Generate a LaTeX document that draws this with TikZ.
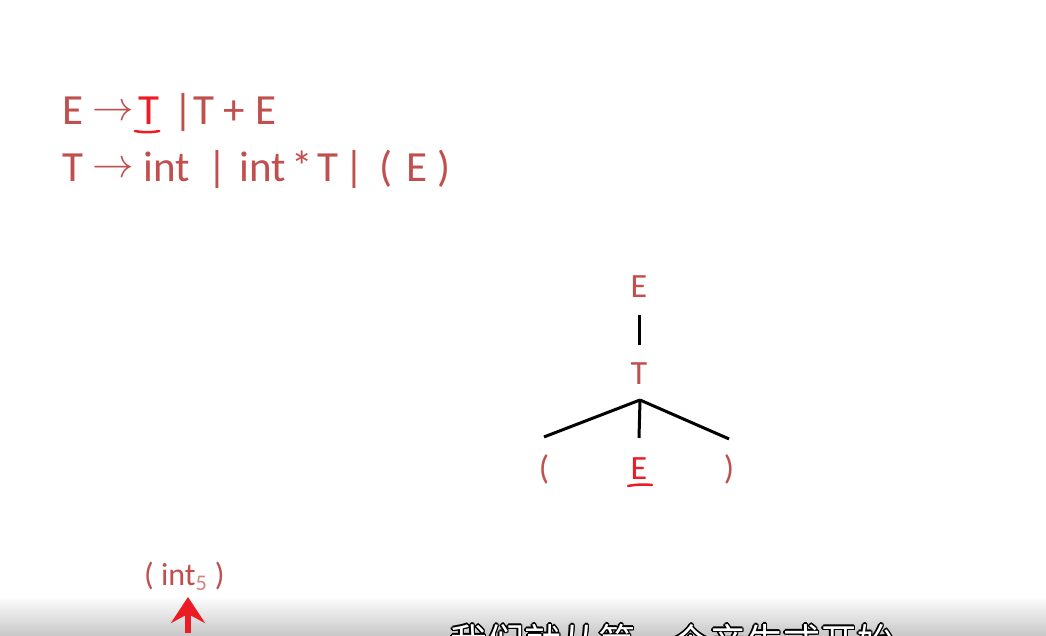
\documentclass[tikz,border=0pt]{standalone}
\usepackage{graphicx}
\usepackage{fontspec}
\setmainfont{Carlito}
\newfontfamily\cjkfont{Noto Sans CJK SC}
\usetikzlibrary{arrows.meta,positioning}
\definecolor{gramred}{RGB}{192,80,77}
\definecolor{hired}{RGB}{235,28,36}
\newcommand{\prodarrow}{\raisebox{4pt}{\fontsize{20.74}{24}\selectfont\scalebox{2}{$\rightarrow$}}}

\begin{document}
\begin{tikzpicture}[
  x=1pt, y=-1pt,
  gram/.style={text=gramred, inner sep=0pt, anchor=base west, font=\fontsize{43}{50}\selectfont},
  treelabel/.style={text=gramred, inner sep=0pt, anchor=base, font=\fontsize{34}{40}\selectfont},
  branch/.style={line width=3pt},
  markline/.style={draw=hired, line width=2.5pt, line cap=round},
  pointer/.style={draw=hired, fill=hired, line width=6pt, -{Stealth[length=26pt,width=34pt,inset=9pt]}}
]
\useasboundingbox (0,0) rectangle (1046,636);
\fill[white] (0,0) rectangle (1046,636);
\shade[top color=white, bottom color=black!22] (0,596) rectangle (1046,636);

% grammar rules
\node[gram] (r1lhs) at (62,125) {E\hspace{9pt}\prodarrow};
\node[gram, text=hired] (r1t) at ([xshift=4pt]r1lhs.base east) {T};
\node[gram] (r1rest) at ([xshift=14pt]r1t.base east) {|T + E};
\draw[markline] ([xshift=-3pt,yshift=-6pt]r1t.base west) to[bend right=10] ([yshift=-6pt]r1t.base east);
\node[gram] (r2) at (62,182) {T\hspace{9pt}\prodarrow\hspace{10pt}int\hspace{17pt}|\hspace{13pt}int\hspace{5pt}*\hspace{5pt}T\hspace{6pt}|\hspace{15pt}(\hspace{14pt}E\hspace{10pt})};

% parse tree
\node[treelabel] (root) at (639,298) {E};
\node[treelabel] (term) at (639,384) {T};
\coordinate (fork) at (640,400);
\node[treelabel] (lp) at (544,479) {(};
\node[treelabel, text=hired] (sub) at (639,479) {E};
\node[treelabel] (rp) at (729,479) {)};
\draw[branch, shorten <=17pt, shorten >=17pt] (root) -- (term);
\draw[branch] (fork) -- ([yshift=17pt]lp.north);
\draw[branch] (fork) -- ([yshift=19pt]sub.north);
\draw[branch] (fork) -- ([yshift=15pt]rp.north);
\draw[markline] ([xshift=-11pt,yshift=-7pt]sub.base) to[bend left=8] ([xshift=13pt,yshift=-6pt]sub.base);

% input pointer
\node[gram, font=\fontsize{32}{38}\selectfont] (tok) at (144,585) {( int\textsubscript{\color{gramred!70}5} )};
\coordinate (ptrtail) at (188,633);
\coordinate (ptrtip) at (188,597);
\draw[pointer] (ptrtail) -- (ptrtip);

% subtitle, cut off at the bottom
\begin{scope}
\clip (0,0) rectangle (1046,636);
\foreach \dx/\dy in {-1.5/0,1.5/0,0/-1.5,0/1.5,-1/-1,1/1,-1/1,1/-1}
  \node[anchor=base west, inner sep=0pt, font=\cjkfont\fontsize{37}{40}\selectfont] at (450+\dx,655+\dy) {我们就从第一个产生式开始};
\node[anchor=base west, inner sep=0pt, text=white, font=\cjkfont\fontsize{37}{40}\selectfont] (subtitle) at (450,655) {我们就从第一个产生式开始};
\end{scope}
\end{tikzpicture}
\end{document}
